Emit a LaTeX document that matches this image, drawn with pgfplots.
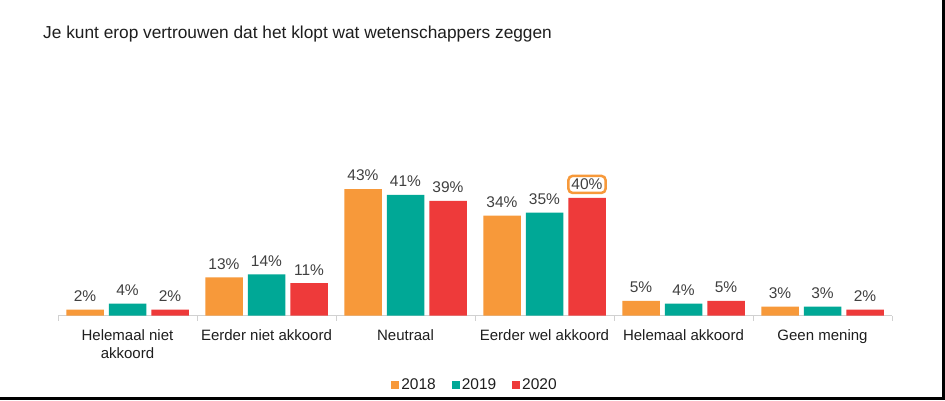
\documentclass[border=0pt]{standalone}
\usepackage{fontspec}
\setmainfont{Liberation Sans}
\usepackage{pgfplots}
\pgfplotsset{compat=1.18}
\definecolor{c18}{RGB}{247,153,58}
\definecolor{c19}{RGB}{0,168,150}
\definecolor{c20}{RGB}{238,58,58}
\definecolor{lbl}{RGB}{64,64,64}
\definecolor{txt}{RGB}{30,30,30}
\begin{document}
\begin{tikzpicture}[x=1pt,y=1pt]
\path[use as bounding box] (0,0) rectangle (945,400);
\fill[white] (0,0) rectangle (945,400);
\node[anchor=west, font=\fontsize{17.3}{20}\selectfont, text=txt, inner sep=0pt] at (43,366) {Je kunt erop vertrouwen dat het klopt wat wetenschappers zeggen};
\begin{axis}[
  at={(58pt,84.5pt)}, anchor=south west,
  scale only axis, width=834pt, height=147pt,
  xmin=-0.5, xmax=5.5, ymin=0, ymax=50,
  ybar=5pt, bar width=37.5pt,
  axis x line*=bottom, axis y line=none,
  x axis line style={draw=black!18, line width=0.8pt},
  xtick={0,1,2,3,4,5},
  xticklabels={{Helemaal niet\\akkoord},{Eerder niet akkoord},{Neutraal},{Eerder wel akkoord},{Helemaal akkoord},{Geen mening}},
  major tick length=0pt,
  minor xtick={-0.5,0.5,1.5,2.5,3.5,4.5,5.5},
  minor tick length=5pt, tick align=outside,
  minor tick style={draw=black!18, line width=0.8pt},
  xticklabel style={font=\fontsize{15}{17.5}\selectfont, text=txt, align=center, yshift=-11pt},
  clip=false,
  nodes near coords={\pgfmathprintnumber[assume math mode=true]{\pgfplotspointmeta}\%},
  every node near coord/.append style={font=\fontsize{15.5}{18}\selectfont, text=lbl, inner sep=3pt, outer sep=0pt, yshift=5pt},
  legend style={at={(0.5,-0.475)}, anchor=center, legend columns=3, draw=none, fill=none,
    font=\fontsize{15.5}{18}\selectfont, text=txt,
    /tikz/every even column/.append style={column sep=14pt},
    legend cell align=left},
]
\addplot[fill=c18, draw=none, legend image code/.code={\fill[c18] (0pt,-4pt) rectangle (8pt,4pt);}] coordinates {(0,2) (1,13) (2,43) (3,34) (4,5) (5,3)};
\addlegendentry{2018}
\addplot[fill=c19, draw=none, legend image code/.code={\fill[c19] (0pt,-4pt) rectangle (8pt,4pt);}] coordinates {(0,4) (1,14) (2,41) (3,35) (4,4) (5,3)};
\addlegendentry{2019}
\addplot[fill=c20, draw=none, legend image code/.code={\fill[c20] (0pt,-4pt) rectangle (8pt,4pt);}] coordinates {(0,2) (1,11) (2,39) (3,40) (4,5) (5,2)};
\addlegendentry{2020}
\addplot[forget plot, draw=none, fill=none, bar shift=42.5pt,
  every node near coord/.append style={draw=c18, line width=2.5pt, rounded corners=4pt, text opacity=0}] coordinates {(3,40)};
\end{axis}
\fill[black] (0,0) rectangle (945,3);
\fill[black] (942,0) rectangle (945,400);
\end{tikzpicture}
\end{document}
